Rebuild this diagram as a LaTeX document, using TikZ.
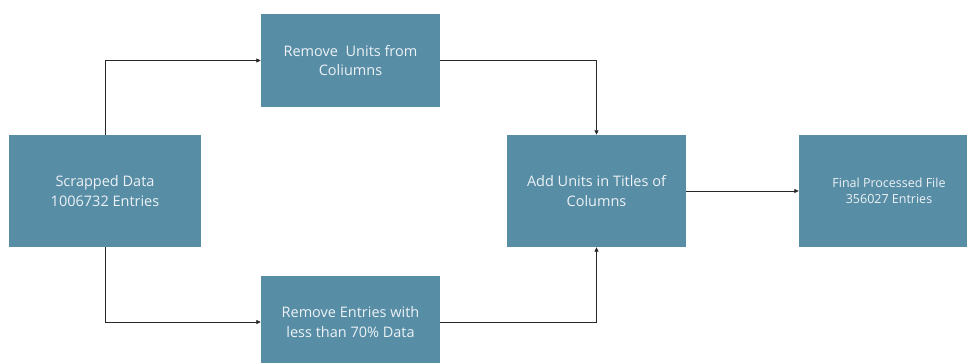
\documentclass[tikz,border=0pt]{standalone}
\usepackage{fontspec}
\setmainfont{Open Sans}
\usetikzlibrary{arrows.meta}
\definecolor{boxfill}{RGB}{88,141,166}
\definecolor{boxtext}{RGB}{236,242,245}
\definecolor{linecol}{RGB}{40,40,40}
\tikzset{
  procbox/.style={rectangle, fill=boxfill, text=boxtext, align=center,
    inner sep=0pt, font=\fontsize{14.5}{19.5}\selectfont},
  flow/.style={draw=linecol, line width=0.8pt,
    -{Triangle[length=4.5pt,width=4pt]}}
}
\begin{document}
\begin{tikzpicture}[x=1pt,y=1pt]
  \useasboundingbox (0,0) rectangle (967,363);
  \clip (0,0) rectangle (967,363);
  \fill[white] (0,0) rectangle (967,363);

  % process boxes
  \node[procbox, minimum width=192pt, minimum height=112pt] (scr) at (105,172)
    {Scrapped Data\\1006732 Entries};
  \node[procbox, minimum width=179pt, minimum height=93pt] (ru) at (350.5,302.5)
    {Remove~ Units from\\Coliumns};
  \node[procbox, minimum width=179pt, minimum height=92pt] (re) at (350.5,41)
    {Remove Entries with\\less than 70\% Data};
  \node[procbox, minimum width=179pt, minimum height=112pt] (add) at (596.5,172)
    {Add Units in Titles of\\Columns};
  \node[procbox, minimum width=180pt, minimum height=112pt,
        font=\fontsize{12.5}{16.5}\selectfont] (fin) at (889,172)
    {Final Processed File\\356027 Entries};

  % connectors
  \draw[flow] (scr.north) |- (ru.west);
  \draw[flow] (ru.east) -| (add.north);
  \draw[flow] (scr.south) |- (re.west);
  \draw[flow] (re.east) -| (add.south);
  \draw[flow] (add.east) -- (fin.west);
\end{tikzpicture}
\end{document}
